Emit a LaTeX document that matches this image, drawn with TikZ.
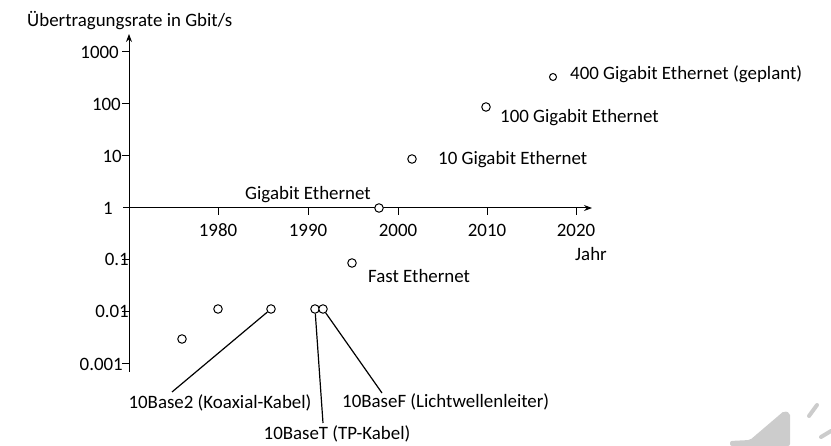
\documentclass[tikz,border=0pt]{standalone}
\usepackage{fontspec}
\setmainfont{Carlito}
\usetikzlibrary{arrows.meta}
\begin{document}
\begin{tikzpicture}[x=1pt,y=-1pt,
  font=\fontsize{18.9}{21}\selectfont,
  axis/.style={line width=1pt,-{Stealth[length=8pt,width=6pt]}},
  tick/.style={line width=1pt},
  dot/.style={circle,draw,line width=1pt,inner sep=0pt,minimum size=8.5pt,fill=white},
  lbl/.style={inner sep=1pt},
  leader/.style={line width=1.2pt},
  soundwave/.style={line width=4pt,line cap=round,gray!40}]
\useasboundingbox (0,0) rectangle (831,446);

% axes
\coordinate (ybot) at (129,372);
\coordinate (ytop) at (129,34);
\coordinate (xleft) at (123,208);
\coordinate (xright) at (592,208);
\draw[axis] (ybot) -- (ytop);
\draw[axis] (xleft) -- (xright);

\node[lbl,anchor=west] (title) at (26,21) {Übertragungsrate in Gbit/s};
\node[lbl,anchor=west] (jahr) at (574,254) {Jahr};

% y ticks and labels
\foreach \yy in {52,104,156,260,312,364}
  \draw[tick] (122,\yy) -- (129,\yy);
\node[lbl,anchor=east] (y1000) at (120,52) {1000};
\node[lbl,anchor=east] (y100) at (122,104) {100};
\node[lbl,anchor=east] (y10) at (123,156) {10};
\node[lbl,anchor=east] (y1) at (114,208) {1};
\node[lbl,anchor=east] (y01) at (130,259) {0.1};
\node[lbl,anchor=east] (y001) at (130,311) {0.01};
\node[lbl,anchor=east] (y0001) at (124,364) {0.001};

% x ticks and labels
\foreach \xx/\yr in {218/1980,308/1990,398/2000,487/2010,576/2020}{
  \draw[tick] (\xx,208) -- (\xx,215);
  \node[lbl] (x\yr) at (\xx,230) {\yr};
}

% data points
\node[dot] (d76) at (182,339) {};
\node[dot] (d80) at (218,309) {};
\node[dot] (d86) at (271,309) {};
\node[dot] (d91) at (315,309) {};
\node[dot] (d92) at (323,309) {};
\node[dot] (d95) at (352,263) {};
\node[dot] (d98) at (379,208) {};
\node[dot] (d02) at (412,159) {};
\node[dot] (d10) at (486,107) {};
\node[dot,minimum size=7pt] (d17) at (553,77) {};

% labels
\node[lbl] (lgig) at (308,195) {Gigabit Ethernet};
\node[lbl,anchor=west] (lfast) at (367,276) {Fast Ethernet};
\node[lbl,anchor=west] (l10g) at (437,160) {10 Gigabit Ethernet};
\node[lbl,anchor=west] (l100g) at (499,118) {100 Gigabit Ethernet};
\node[lbl,anchor=west] (l400g) at (569,74) {400 Gigabit Ethernet (geplant)};
\node[lbl] (l2) at (220,403) {10Base2 (Koaxial-Kabel)};
\node[lbl] (lT) at (337,434) {10BaseT (TP-Kabel)};
\node[lbl,anchor=west] (lF) at (341,402) {10BaseF (Lichtwellenleiter)};

% leader lines
\coordinate (c2) at (172,392);
\coordinate (cT) at (323,423);
\coordinate (cF) at (382,393);
\draw[leader] (d86) -- (c2);
\draw[leader] (d91) -- (cT);
\draw[leader] (d92) -- (cF);

% speaker icon in the corner
\fill[gray!40,rounded corners=2pt] (730,446) -- (730,441) -- (750,440) -- (784,411) -- (790,413) -- (790,446) -- cycle;
\draw[soundwave] (809,416) -- (817,405);
\draw[soundwave] (821,437) -- (831,431);
\end{tikzpicture}
\end{document}
